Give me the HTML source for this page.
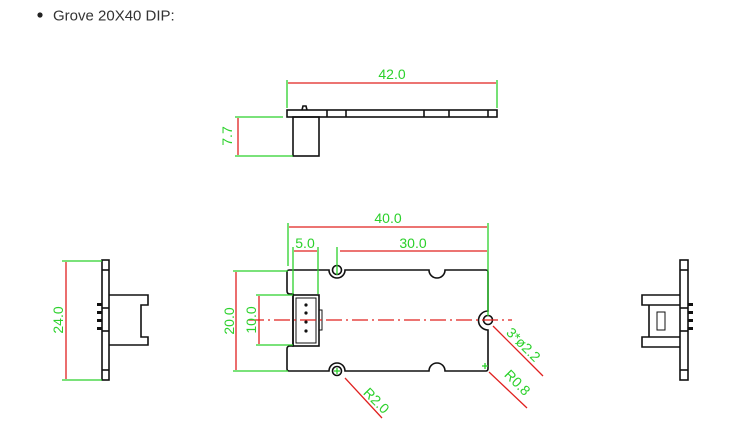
<!DOCTYPE html>
<html><head><meta charset="utf-8"><style>
body{margin:0;background:#fff;width:740px;height:434px;overflow:hidden;font-family:"Liberation Sans",sans-serif}
</style></head><body>
<svg width="740" height="434" viewBox="0 0 740 434" xmlns="http://www.w3.org/2000/svg">
<circle cx="40" cy="15" r="2.6" fill="#222"/>
<text x="53" y="20.5" font-family="Liberation Sans, sans-serif" font-size="15" fill="#333">Grove 20X40 DIP:</text>

<g fill="none" stroke="#111" stroke-width="1.6">
<rect x="287" y="110" width="210" height="7"/>
<line x1="327" y1="110" x2="327" y2="117"/><line x1="346" y1="110" x2="346" y2="117"/>
<line x1="424" y1="110" x2="424" y2="117"/><line x1="449" y1="110" x2="449" y2="117"/>
<line x1="488" y1="110" x2="488" y2="117"/>
<rect x="293" y="117" width="26" height="39"/>
<path d="M302 110 L303 106 L306 106 L307 110"/>

<path d="M289 270 H329 A8 8 0 0 0 345 270 H429 A8 8 0 0 0 445 270 H486 A2 2 0 0 1 488 272 V311 A9 9 0 0 0 488 330 V369 A2 2 0 0 1 486 371 H445 A8 8 0 0 0 429 371 H345 A8 8 0 0 0 329 371 H289 A2 2 0 0 1 287 369 V349 Q287 346 290 346 L293 346 V294 L290 294 Q287 294 287 291 V272 A2 2 0 0 1 289 270Z"/>
<circle cx="337" cy="270" r="4.5"/>
<circle cx="337" cy="371" r="4.5"/>
<circle cx="488" cy="320" r="4.5"/>
<rect x="293" y="295" width="26" height="51"/>
<rect x="296" y="298" width="20" height="45" stroke-width="1"/>
<rect x="319" y="310" width="3" height="20" stroke-width="1"/>

<rect x="102" y="260" width="7" height="120"/>
<line x1="102" y1="270" x2="109" y2="270"/><line x1="102" y1="370" x2="109" y2="370"/>
<line x1="102" y1="308" x2="109" y2="308"/><line x1="102" y1="331" x2="109" y2="331"/>
<path d="M109 295 H148 V305 H141 V337 H148 V345 H109"/>
<rect x="680" y="260" width="8" height="120"/>
<line x1="680" y1="270" x2="688" y2="270"/><line x1="680" y1="370" x2="688" y2="370"/>
<line x1="680" y1="308" x2="688" y2="308"/><line x1="680" y1="331" x2="688" y2="331"/>
<path d="M680 295 H642 V305 H680 M680 337 H642 V347 H680 M649 305 V337"/>
<rect x="657" y="312" width="8" height="18" stroke-width="1"/>
</g>
<g fill="#111">
<rect x="97" y="303" width="5" height="3"/><rect x="97" y="311" width="5" height="3"/><rect x="97" y="319" width="5" height="3"/><rect x="97" y="327" width="5" height="3"/>
<rect x="688" y="303" width="5" height="3"/><rect x="688" y="311" width="5" height="3"/><rect x="688" y="319" width="5" height="3"/><rect x="688" y="327" width="5" height="3"/>
<circle cx="306" cy="305" r="1.6"/><circle cx="306" cy="313" r="1.6"/><circle cx="306" cy="322" r="1.6"/><circle cx="306" cy="331" r="1.6"/>
</g>

<g stroke="#2bd12b" stroke-width="1.3" fill="none">
<line x1="287" y1="80" x2="287" y2="108"/><line x1="497" y1="80" x2="497" y2="108"/>
<line x1="235" y1="117" x2="283" y2="117"/><line x1="235" y1="156" x2="293" y2="156"/>
<line x1="288" y1="223" x2="288" y2="266"/><line x1="488" y1="223" x2="488" y2="316"/>
<line x1="337" y1="247" x2="337" y2="275"/>
<line x1="293" y1="247" x2="293" y2="294"/><line x1="318" y1="247" x2="318" y2="294"/>
<line x1="233" y1="271" x2="288" y2="271"/><line x1="233" y1="371" x2="288" y2="371"/>
<line x1="256" y1="295" x2="293" y2="295"/><line x1="256" y1="345" x2="293" y2="345"/>
<line x1="62" y1="261" x2="102" y2="261"/><line x1="62" y1="380" x2="102" y2="380"/>
<line x1="334" y1="371" x2="340" y2="371"/><line x1="337" y1="368" x2="337" y2="374"/>
<line x1="482" y1="366" x2="488" y2="366"/><line x1="485" y1="363" x2="485" y2="369"/>
</g>
<g stroke="#e0201f" stroke-width="1.3" fill="none">
<line x1="288" y1="83" x2="496" y2="83"/>
<line x1="238" y1="118" x2="238" y2="155"/>
<line x1="289" y1="227" x2="487" y2="227"/>
<line x1="340" y1="251" x2="487" y2="251"/>
<line x1="294" y1="251" x2="317" y2="251"/>
<line x1="236" y1="272" x2="236" y2="370"/>
<line x1="259" y1="296" x2="259" y2="344"/>
<line x1="66" y1="262" x2="66" y2="379"/>
<line x1="248" y1="320" x2="512" y2="320" stroke-dasharray="16 4 2 4"/>
<line x1="493" y1="326" x2="543" y2="376"/>
<line x1="345" y1="378" x2="382" y2="418"/>
<line x1="489" y1="372" x2="527" y2="408"/>
</g>
<g fill="#2bd12b" font-family="Liberation Sans, sans-serif" font-size="14" text-anchor="middle">
<text x="392" y="79">42.0</text>
<text transform="translate(232,136) rotate(-90)">7.7</text>
<text x="388" y="223">40.0</text>
<text x="305" y="248">5.0</text>
<text x="413" y="248">30.0</text>
<text transform="translate(234,321) rotate(-90)">20.0</text>
<text transform="translate(256,320) rotate(-90)">10.0</text>
<text transform="translate(63,320) rotate(-90)">24.0</text>
<text transform="translate(520,348) rotate(45)">3*ø2.2</text>
<text transform="translate(373,404) rotate(45)">R2.0</text>
<text transform="translate(514,386) rotate(45)">R0.8</text>
</g>
</svg>
</body></html>
